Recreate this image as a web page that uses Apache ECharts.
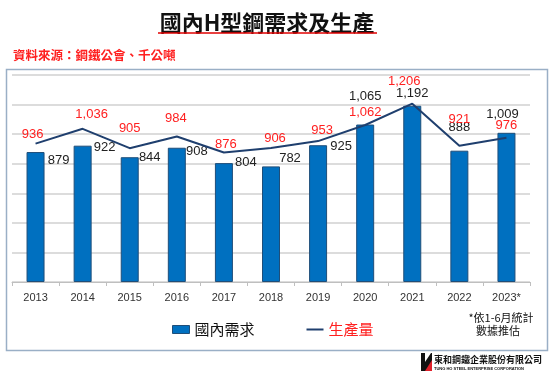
<!DOCTYPE html>
<html><head><meta charset="utf-8">
<script src="https://cdn.jsdelivr.net/npm/echarts@6/dist/echarts.min.js"></script>
<style>html,body{margin:0;padding:0;background:#fff}#c{width:554px;height:374px}</style>
</head><body><div id="c"></div>
<script>
var categories = ['2013','2014','2015','2016','2017','2018','2019','2020','2021','2022','2023*'];
var demand = [879, 922, 844, 908, 804, 782, 925, 1065, 1192, 888, 1009];
var production = [936, 1036, 905, 984, 876, 906, 953, 1062, 1206, 921, 976];
var yTicks = [0, 200, 400, 600, 800, 1000, 1200, 1400];
// label placement (style only)
var demandLabelOffsets = [[23,8],[22,2],[20,0],[20,4],[22,-1],[19,-8],[23,1],[0,-28],[0,-12],[0,-23],[-4,-18]];
var prodLabelOffsets = [[-3,-9],[9,-14],[0,-19],[-1,-18],[2,-8],[4,-9],[4,-10],[0,-12],[-8,-22],[0,-26],[0,-12]];

function fmt(p){ return Number(p.value).toLocaleString('en-US'); }

var chart = echarts.init(document.getElementById('c'));
var cjk = '"Noto Sans CJK TC", "Noto Sans CJK SC", sans-serif';
chart.setOption({
  animation: false,
  backgroundColor: '#fff',
  grid: { left: 12, right: 24, top: 75, bottom: 92, containLabel: false },
  legend: {
    left: 167, top: 317,
    itemWidth: 17, itemHeight: 8, itemGap: 52,
    textStyle: { fontFamily: cjk, fontSize: 15 },
    data: [
      { name: '國內需求', icon: 'rect', textStyle: { color: '#111' },
        itemStyle: { color: '#0070C0', borderColor: '#1F4E79', borderWidth: 1 } },
      { name: '生產量', icon: 'path://M0,0 L17,0 L17,2 L0,2 Z', textStyle: { color: '#FF2020' },
        itemStyle: { color: '#1F3F6E', opacity: 1, borderWidth: 0 } }
    ]
  },
  xAxis: {
    type: 'category', data: categories, boundaryGap: true,
    axisLine: { lineStyle: { color: '#BFBFBF', width: 1 } },
    axisTick: { show: true, inside: false, length: 4, alignWithLabel: false, lineStyle: { color: '#BFBFBF' } },
    axisLabel: { color: '#333', fontSize: 11, fontFamily: 'Liberation Sans, Arial, sans-serif', margin: 10 }
  },
  yAxis: {
    type: 'value', min: yTicks[0], max: yTicks[yTicks.length-1], interval: 200,
    axisLabel: { show: false }, axisLine: { show: false }, axisTick: { show: false },
    splitLine: { lineStyle: { color: '#D0D0D0', width: 1.5 } }
  },
  series: [
    {
      name: '國內需求', type: 'bar', barWidth: 18, z: 2,
      itemStyle: { color: '#0070C0', borderColor: '#1F4E79', borderWidth: 1 },
      data: demand.map(function(v, i){
        return { value: v, label: { offset: demandLabelOffsets[i] } };
      }),
      label: { show: true, position: 'top', distance: 0, verticalAlign: 'middle', align: 'center',
        color: '#222', fontSize: 13, fontFamily: 'Liberation Sans, Arial, sans-serif', formatter: fmt }
    },
    {
      name: '生產量', type: 'line', z: 3,
      symbol: 'circle', symbolSize: 1, showSymbol: true,
      itemStyle: { color: 'rgba(31,63,110,0)', borderWidth: 0 },
      lineStyle: { color: '#1F3F6E', width: 2 },
      data: production.map(function(v, i){
        return { value: v, label: { offset: prodLabelOffsets[i] } };
      }),
      label: { show: true, position: 'top', distance: 0, verticalAlign: 'middle', align: 'center',
        color: '#FF2020', fontSize: 13, fontFamily: 'Liberation Sans, Arial, sans-serif', formatter: fmt }
    }
  ],
  graphic: [
    { type: 'rect', shape: { x: 6.5, y: 69.5, width: 541, height: 281 }, style: { fill: 'none', stroke: '#9AAFC6', lineWidth: 1.5 }, z: -1, silent: true },
    { type: 'text', x: 267, y: 23, style: { text: '國內H型鋼需求及生產', fill: '#111', font: 'bold 22px ' + cjk, textAlign: 'center', textVerticalAlign: 'middle' } },
    { type: 'line', shape: { x1: 158, y1: 33, x2: 377, y2: 33 }, style: { stroke: '#E00000', lineWidth: 1.5 } },
    { type: 'text', x: 13, y: 55, style: { text: '資料來源：鋼鐵公會、千公噸', fill: '#FF2020', font: 'bold 12.5px ' + cjk, textVerticalAlign: 'middle' } },
    { type: 'text', x: 501, y: 318, style: { text: '*依1-6月統計', fill: '#111', font: '11px ' + cjk, textAlign: 'center', textVerticalAlign: 'middle' } },
    { type: 'text', x: 498, y: 331, style: { text: '數據推估', fill: '#111', font: '11px ' + cjk, textAlign: 'center', textVerticalAlign: 'middle' } },
    { type: 'polygon', shape: { points: [[421,353],[425,353],[425,362],[431,353],[432,353],[432,371],[421,371]] }, style: { fill: '#111' } },
    { type: 'polygon', shape: { points: [[425,371],[432,360],[432,371]] }, style: { fill: '#E0202A' } },
    { type: 'text', x: 434, y: 360, style: { text: '東和鋼鐵企業股份有限公司', fill: '#111', font: 'bold 9px ' + cjk, textVerticalAlign: 'middle' } },
    { type: 'text', x: 434, y: 369, style: { text: 'TUNG HO STEEL ENTERPRISE CORPORATION', fill: '#111', font: 'bold 4px Liberation Sans, Arial, sans-serif', textVerticalAlign: 'middle' } }
  ]
});
</script></body></html>
